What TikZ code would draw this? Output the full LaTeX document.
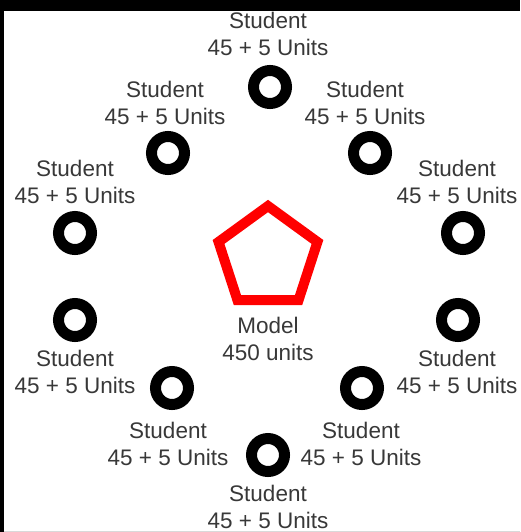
\documentclass[tikz,border=0pt]{standalone}
\usepackage{fontspec}
\setmainfont{Liberation Sans}
\usepackage{xcolor}
\usetikzlibrary{shapes.geometric}

\begin{document}
\begin{tikzpicture}[x=1pt,y=-1pt,
  seat/.style={draw=black,circle,line width=11pt,minimum size=33pt,inner sep=0pt},
  tag/.style={align=center,text=black!78,font=\fontsize{22.5}{27}\selectfont,inner sep=0pt}]
 \useasboundingbox (0,0) rectangle (520,532);
 \fill[white] (0,0) rectangle (520,532);
 % frame
 \fill[black] (0,0) rectangle (520,11); \fill[black] (0,0) rectangle (4,532);
 \draw[black!15] (4,531) -- (520,531);
 % model in the middle
 \node[draw=red,regular polygon,regular polygon sides=5,line width=10pt,minimum size=104pt,inner sep=0pt] (model) at (268,258) {};
 \node[tag] (mlab) at (268,339) {Model\\450 units};
 % students round it
 \foreach \i/\x/\y/\lx/\ly in {1/270/87/268/33.5, 2/168/153/165/102.5, 3/370/153/365/102.5, 4/75/233/75/182, 5/463/233/457/182,
   6/75/320/75/371.5, 7/458/320/457/371.5, 8/172/388/168/443.5, 9/362/388/361/443.5, 10/268/455/268/507}
   {\node[seat] (s\i) at (\x,\y) {}; \node[tag] (l\i) at (\lx,\ly) {Student\\45 + 5 Units};}
\end{tikzpicture}
\end{document}
